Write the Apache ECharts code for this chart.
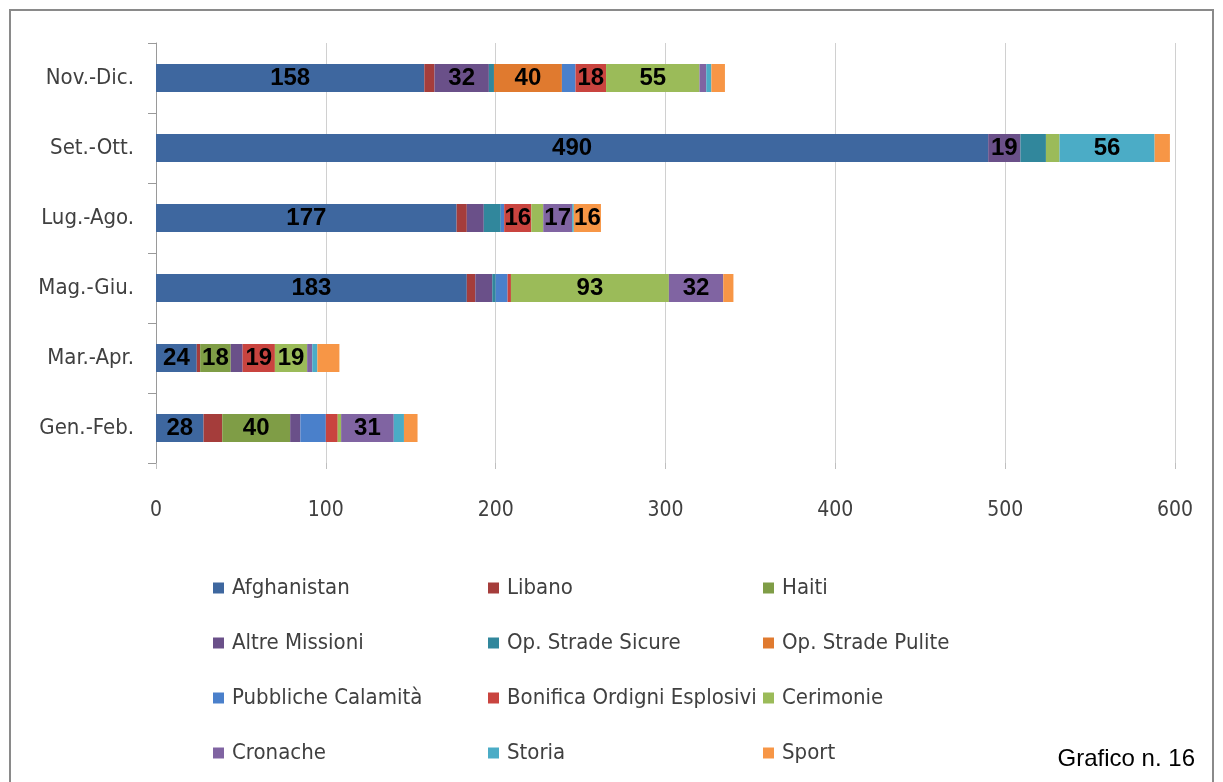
<!DOCTYPE html>
<html>
<head>
<meta charset="utf-8">
<script src="https://cdn.jsdelivr.net/npm/echarts@6/dist/echarts.min.js"></script>
<style>
  html, body { margin: 0; padding: 0; background: #ffffff; }
  #chart { width: 1223px; height: 782px; }
</style>
</head>
<body>
<div id="chart"></div>
<script>
// Bimester periods, bottom to top
const periods = ['Gen.-Feb.', 'Mar.-Apr.', 'Mag.-Giu.', 'Lug.-Ago.', 'Set.-Ott.', 'Nov.-Dic.'];

// Series values, one per period (same order as periods)
const afghanistan       = [28, 24, 183, 177, 490, 158];
const libano            = [11, 2, 5, 6, 0, 6];
const haiti             = [40, 18, 0, 0, 0, 0];
const altreMissioni     = [6, 7, 10, 10, 19, 32];
const opStradeSicure    = [0, 0, 2, 10, 15, 3];
const opStradePulite    = [0, 0, 0, 0, 0, 40];
const pubblicheCalamita = [15, 0, 7, 2, 0, 8];
const bonificaOrdigni   = [7, 19, 2, 16, 0, 18];
const cerimonie         = [2, 19, 93, 7, 8, 55];
const cronache          = [31, 3, 32, 17, 0, 4];
const storia            = [6, 3, 0, 1, 56, 3];
const sport             = [8, 13, 6, 16, 9, 8];

const seriesNames = ['Afghanistan', 'Libano', 'Haiti', 'Altre Missioni', 'Op. Strade Sicure',
  'Op. Strade Pulite', 'Pubbliche Calamità', 'Bonifica Ordigni Esplosivi', 'Cerimonie',
  'Cronache', 'Storia', 'Sport'];
const seriesValues = [afghanistan, libano, haiti, altreMissioni, opStradeSicure, opStradePulite,
  pubblicheCalamita, bonificaOrdigni, cerimonie, cronache, storia, sport];
const seriesColors = ['#3e679f', '#a53d3b', '#7f9d46', '#6a5089', '#31879c', '#e07a2f',
  '#4a80cb', '#c9443f', '#9bbb59', '#8064a2', '#4bacc6', '#f79646'];

// Segments narrower than this are left without a value label
const LABEL_MIN = 16;

const catFont = '"DejaVu Sans Condensed", "Noto Sans", sans-serif';

const chart = echarts.init(document.getElementById('chart'), null, { renderer: 'canvas' });

const series = seriesNames.map((name, i) => ({
  name: name,
  type: 'bar',
  stack: 'totale',
  barWidth: 28,
  data: seriesValues[i],
  itemStyle: { color: seriesColors[i] },
  label: {
    show: true,
    position: 'inside',
    color: '#000000',
    fontFamily: 'Arial, "Liberation Sans", sans-serif',
    fontWeight: 'bold',
    fontSize: 24,
    formatter: p => (p.value >= LABEL_MIN ? String(p.value) : '')
  },
  emphasis: { disabled: true }
}));

// Legend laid out in three columns, items read row by row
const legendColumns = [0, 1, 2].map(c => seriesNames.filter((_, i) => i % 3 === c));
const legendLeft = [213, 488, 763];
const legends = legendColumns.map((names, c) => ({
  data: names,
  orient: 'vertical',
  left: legendLeft[c],
  top: 577,
  padding: 0,
  itemWidth: 11,
  itemHeight: 11,
  itemGap: 33,
  icon: 'rect',
  selectedMode: false,
  textStyle: {
    color: '#404040',
    fontFamily: catFont,
    fontSize: 22,
    lineHeight: 22,
    padding: [0, 0, 0, 3]
  }
}));

chart.setOption({
  animation: false,
  backgroundColor: '#ffffff',
  grid: { left: 156, right: 48, top: 43, bottom: 319, containLabel: false },
  xAxis: {
    type: 'value',
    min: 0,
    max: 600,
    interval: 100,
    axisLine: { show: false },
    axisTick: { show: true, length: 6, lineStyle: { color: '#bfbfbf' } },
    splitLine: { show: true, lineStyle: { color: '#d0d0d0', width: 1 } },
    axisLabel: {
      margin: 37,
      color: '#404040',
      fontFamily: catFont,
      fontSize: 21
    }
  },
  yAxis: {
    type: 'category',
    data: periods,
    axisLine: { show: true, lineStyle: { color: '#9a9a9a', width: 1 } },
    axisTick: { show: true, length: 8, lineStyle: { color: '#9a9a9a' } },
    axisLabel: {
      margin: 22,
      color: '#404040',
      fontFamily: catFont,
      fontSize: 22
    }
  },
  legend: legends,
  graphic: [
    {
      type: 'rect',
      shape: { x: 10, y: 10, width: 1203, height: 800 },
      style: { fill: 'none', stroke: '#8a8a8a', lineWidth: 2 },
      silent: true
    },
    {
      type: 'text',
      right: 28,
      top: 747,
      style: {
        text: 'Grafico n. 16',
        fill: '#000000',
        font: '24px Arial, "Liberation Sans", sans-serif'
      },
      silent: true
    }
  ],
  series: series
});
</script>
</body>
</html>
